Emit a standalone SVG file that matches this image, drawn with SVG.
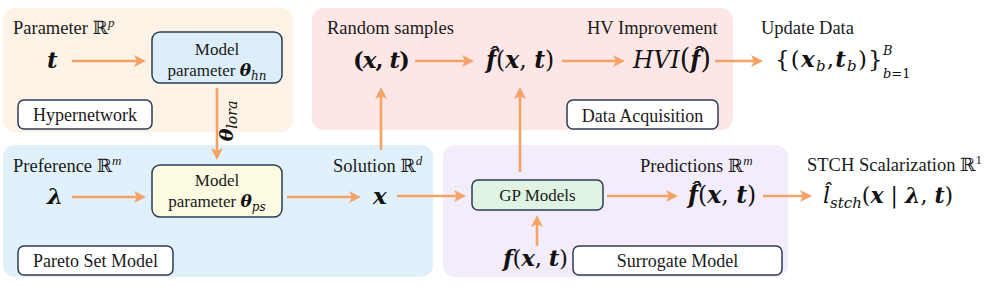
<svg xmlns="http://www.w3.org/2000/svg" width="987" height="287" viewBox="0 0 987 287">
<defs>
<marker id="ah" viewBox="0 0 12 12" refX="3" refY="6" markerWidth="12" markerHeight="12" markerUnits="userSpaceOnUse" orient="auto">
<path d="M0,0 L12,6 L0,12 L3,6 z" fill="#f4a266"/>
</marker>
<style>
.lbl{font-family:"Liberation Serif","DejaVu Serif",serif;font-size:18.5px;fill:#1a1a1a}
.bx{font-family:"Liberation Serif","DejaVu Serif",serif;font-size:17px;fill:#1a1a1a}
.tg{font-family:"Liberation Serif","DejaVu Serif",serif;font-size:18px;fill:#1a1a1a}
.mt{font-family:"DejaVu Serif",serif;font-size:23px;fill:#111}
.b{font-weight:bold;font-style:italic}
.i{font-style:italic}
.r{font-weight:bold}
.sup{font-family:"Liberation Serif","DejaVu Serif",serif;font-style:italic;font-size:13px}
.conn{stroke:#f4a266;stroke-width:2.6;fill:none;marker-end:url(#ah)}
.node{stroke:#2c3b57;stroke-width:1.5}
.tag{fill:#fff;stroke:#2c3b57;stroke-width:1.5}
</style>
</defs>

<g id="panels">
<rect x="3" y="8" width="290" height="124" rx="12" fill="#fdf2e6"/>
<rect x="312" y="8" width="421" height="122" rx="12" fill="#fde7e6"/>
<rect x="3" y="145" width="430" height="132" rx="12" fill="#e1f1fc"/>
<rect x="443" y="145" width="345" height="132" rx="12" fill="#f3edfb"/>
</g>

<g id="connectors">
<path class="conn" d="M72,61 H137"/>
<path class="conn" d="M415,61 H465"/>
<path class="conn" d="M562,61 H616"/>
<path class="conn" d="M715,61 H754"/>
<path class="conn" d="M217,88 V151"/>
<path class="conn" d="M72,197 H137"/>
<path class="conn" d="M287,197 H352"/>
<path class="conn" d="M397,196 H457"/>
<path class="conn" d="M607,196 H669"/>
<path class="conn" d="M763,196 H803"/>
<path class="conn" d="M381,150 V96"/>
<path class="conn" d="M520,172 V96"/>
<path class="conn" d="M537,246 V224"/>
<text class="mt" transform="translate(233,121) rotate(-90)" text-anchor="middle" style="font-size:19px"><tspan class="b">θ</tspan><tspan class="i" style="font-size:14px" dy="4">lora</tspan></text>
</g>

<g id="hypernetwork">
<text class="lbl" x="13" y="34">Parameter ℝ<tspan class="sup" dy="-7">p</tspan></text>
<text class="mt b" x="47" y="68">t</text>
<g id="model-hn">
<rect class="node" x="152" y="32" width="130" height="51" rx="8" fill="#ddeefb"/>
<text class="bx" x="217" y="55" text-anchor="middle">Model</text>
<text class="bx" x="217" y="76" text-anchor="middle">parameter <tspan class="mt b" style="font-size:17px">θ</tspan><tspan class="mt i" style="font-size:12px" dy="4">hn</tspan></text>
</g>
<g id="tag-hypernetwork">
<rect class="tag" x="18" y="100" width="134" height="29" rx="6"/>
<text class="tg" x="85" y="121" text-anchor="middle">Hypernetwork</text>
</g>
</g>

<g id="data-acquisition">
<text class="lbl" x="327" y="34">Random samples</text>
<text class="lbl" x="587" y="34">HV Improvement</text>
<text class="mt" x="353" y="68" textLength="57" lengthAdjust="spacing"><tspan class="r">(</tspan><tspan class="b">x</tspan><tspan class="r">, </tspan><tspan class="b">t</tspan><tspan class="r">)</tspan></text>
<text class="mt" x="486" y="68" style="font-size:23.5px"><tspan class="b">f&#x302;</tspan>(<tspan class="b">x</tspan>, <tspan class="b">t</tspan>)</text>
<text class="mt" x="633" y="68" style="font-size:23.5px"><tspan class="i">HVI</tspan><tspan style="font-size:27px">(</tspan><tspan class="b">f&#x302;</tspan><tspan style="font-size:27px">)</tspan></text>
<g id="tag-data">
<rect class="tag" x="567" y="100" width="151" height="29" rx="6"/>
<text class="tg" x="642.5" y="122" text-anchor="middle">Data Acquisition</text>
</g>
</g>

<g id="update-data">
<text class="lbl" x="761" y="34">Update Data</text>
<text class="mt" x="775" y="67" style="letter-spacing:1.2px">{(<tspan class="b">x</tspan><tspan class="i" style="font-size:15px" dy="4">b</tspan><tspan dy="-4">,</tspan><tspan class="b">t</tspan><tspan class="i" style="font-size:15px" dy="4">b</tspan><tspan dy="-4">)</tspan><tspan style="letter-spacing:0">}</tspan></text>
<text class="mt i" x="883" y="55" style="font-size:13px">B</text>
<text class="mt" x="883" y="78" style="font-size:13px"><tspan class="i">b</tspan>=1</text>
</g>

<g id="pareto-set">
<text class="lbl" x="13" y="172">Preference ℝ<tspan class="sup" dy="-7">m</tspan></text>
<text class="lbl" x="333" y="172">Solution ℝ<tspan class="sup" dy="-7">d</tspan></text>
<text class="mt b" x="47" y="204">λ</text>
<text class="mt b" x="373" y="204">x</text>
<g id="model-ps">
<rect class="node" x="152" y="165" width="130" height="52" rx="8" fill="#fdfbe1"/>
<text class="bx" x="217" y="186" text-anchor="middle">Model</text>
<text class="bx" x="217" y="207" text-anchor="middle">parameter <tspan class="mt b" style="font-size:17px">θ</tspan><tspan class="mt i" style="font-size:12px" dy="4">ps</tspan></text>
</g>
<g id="tag-pareto">
<rect class="tag" x="18" y="246" width="155" height="29" rx="6"/>
<text class="tg" x="95.5" y="267" text-anchor="middle">Pareto Set Model</text>
</g>
</g>

<g id="surrogate">
<text class="lbl" x="640" y="172">Predictions ℝ<tspan class="sup" dy="-7">m</tspan></text>
<g id="gp-models">
<rect class="node" x="472" y="180" width="131" height="30" rx="6" fill="#dff4e3"/>
<text class="bx" x="537.5" y="201" text-anchor="middle">GP Models</text>
</g>
<text class="mt" x="688" y="203" style="font-size:23.5px"><tspan class="b">f&#x302;</tspan>(<tspan class="b">x</tspan>, <tspan class="b">t</tspan>)</text>
<text class="mt" x="503" y="266" textLength="65" lengthAdjust="spacing"><tspan class="b">f</tspan>(<tspan class="b">x</tspan>, <tspan class="b">t</tspan>)</text>
<g id="tag-surrogate">
<rect class="tag" x="573" y="246" width="209" height="29" rx="6"/>
<text class="tg" x="677.5" y="267" text-anchor="middle">Surrogate Model</text>
</g>
</g>

<g id="stch">
<text class="lbl" x="807" y="171">STCH Scalarization ℝ<tspan class="sup" dy="-7" style="font-style:normal">1</tspan></text>
<text class="mt" x="823" y="203" style="font-size:22px"><tspan class="i">l&#x302;</tspan><tspan class="i" style="font-size:15px" dy="5">stch</tspan><tspan dy="-5">(</tspan><tspan class="b">x</tspan> | <tspan class="b">λ</tspan>, <tspan class="b">t</tspan>)</text>
</g>
</svg>
